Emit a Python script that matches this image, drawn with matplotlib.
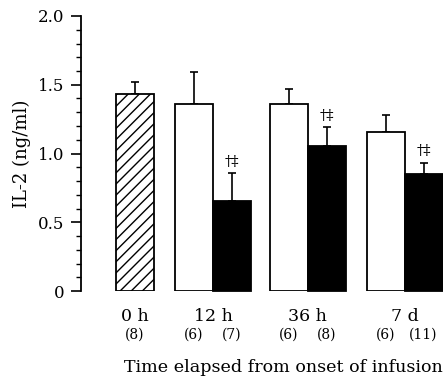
import matplotlib.pyplot as plt
import matplotlib.transforms as mtransforms
import numpy as np

# ------------------------------------------------------------
# IL-2 by time elapsed from onset of infusion
# ------------------------------------------------------------

groups = ["0 h", "12 h", "36 h", "7 d"]
baseline_mean = 1.43
baseline_err = 0.09
baseline_n = "(8)"
white_mean = [1.36, 1.36, 1.16]
white_err = [0.23, 0.11, 0.12]
white_n = ["(6)", "(6)", "(6)"]
black_mean = [0.655, 1.055, 0.85]
black_err = [0.20, 0.135, 0.08]
black_n = ["(7)", "(8)", "(11)"]
sig_mark = "\u2020\u2021"
yticks = [0, 0.5, 1.0, 1.5, 2.0]
ytick_labels = ["0", "0.5", "1.0", "1.5", "2.0"]

plt.rcParams['font.family'] = ['DejaVu Serif']
plt.rcParams['hatch.linewidth'] = 1.0

fig = plt.figure(figsize=(4.43, 3.77), dpi=100)
ax = fig.add_axes([81 / 443, 86 / 377, 1 - 81 / 443, 275 / 377])

w = 1.0
x0 = 0.0
x_white = np.array([1.55, 4.04, 6.59])
x_black = x_white + w

ax.bar(x0, baseline_mean, w, color="white", edgecolor="black", linewidth=1.3,
       hatch="///", zorder=2)
ax.bar(x_white, white_mean, w, color="white", edgecolor="black", linewidth=1.3, zorder=2)
ax.bar(x_black, black_mean, w, color="black", edgecolor="black", linewidth=1.3,
       zorder=2, clip_on=False)

ekw = dict(fmt="none", ecolor="black", elinewidth=1.2, capsize=3.2, capthick=1.2, zorder=1)
ax.errorbar([x0], [baseline_mean], yerr=[[0], [baseline_err]], **ekw)
ax.errorbar(x_white, white_mean, yerr=[np.zeros(3), white_err], **ekw)
ax.errorbar(x_black, black_mean, yerr=[np.zeros(3), black_err], **ekw)

for xb, m, e in zip(x_black, black_mean, black_err):
    ax.text(xb, m + e + 0.035, sig_mark, ha="center", va="bottom", fontsize=10.5)

ax.set_xlim(-1.42, 8.1)
ax.set_ylim(0, 2.0)

ax.set_yticks(yticks)
ax.set_yticklabels(ytick_labels, fontsize=12)
ax.set_yticks(np.arange(0, 2.0, 0.1), minor=True)
ax.tick_params(axis="y", which="major", length=7, width=1.2, pad=5)
ax.tick_params(axis="y", which="minor", length=3.5, width=1.0)

group_x = [x0, x_white[0] + w / 2, x_white[1] + w / 2, x_white[2] + w / 2]
ax.set_xticks(group_x)
ax.set_xticklabels(groups, fontsize=12.5)
ax.tick_params(axis="x", length=0, pad=12)

trans = mtransforms.blended_transform_factory(ax.transData, ax.transAxes)
ny = -0.158
ax.text(x0, ny, baseline_n, transform=trans, ha="center", va="center", fontsize=10)
for xw, xb, nw, nb in zip(x_white, x_black, white_n, black_n):
    ax.text(xw, ny, nw, transform=trans, ha="center", va="center", fontsize=10)
    ax.text(xb, ny, nb, transform=trans, ha="center", va="center", fontsize=10)

ax.text(1.0, -0.28, "Time elapsed from onset of infusion", transform=ax.transAxes,
        ha="right", va="center", fontsize=12.6)
ax.set_ylabel("IL-2 (ng/ml)", fontsize=13, labelpad=5)

for side in ["top", "right", "bottom"]:
    ax.spines[side].set_visible(False)
ax.spines["left"].set_linewidth(1.3)

fig.savefig("out.png", dpi=100)
